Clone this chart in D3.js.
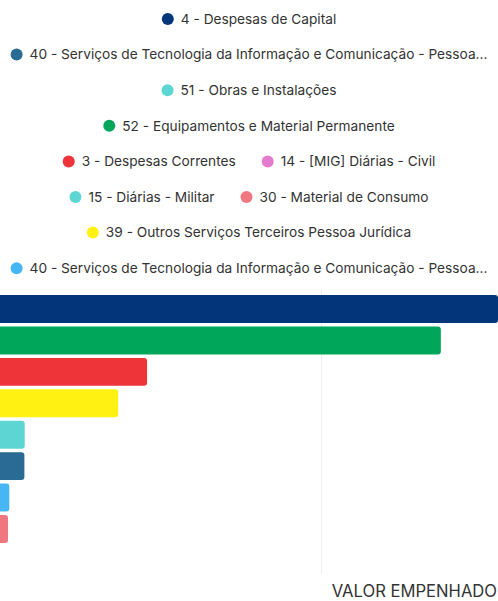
<!DOCTYPE html>
<html>
<head>
<meta charset="utf-8">
<script src="https://cdn.jsdelivr.net/npm/d3@7"></script>
<style>
  body { margin: 0; background: #fff; }
  text { font-family: Inter, "Noto Sans", sans-serif; }
</style>
</head>
<body>
<div id="chart"></div>
<script>
// bars, top to bottom
const categories = [
    "4 - Despesas de Capital",
    "52 - Equipamentos e Material Permanente",
    "3 - Despesas Correntes",
    "39 - Outros Serviços Terceiros Pessoa Jurídica",
    "51 - Obras e Instalações",
    "40 - Serviços de Tecnologia da Informação e Comunicação - Pessoa Jurídica (capital)",
    "40 - Serviços de Tecnologia da Informação e Comunicação - Pessoa Jurídica",
    "30 - Material de Consumo"
];
const values = [1551000, 1373000, 458000, 368000, 77000, 76000, 29000, 25000];
const barColors = ["#03357a", "#00a65a", "#ee3339", "#fff212", "#5dd6d3", "#2a6b95", "#46b7f4", "#f07780"];

// legend, row by row
const legendRows = [
    [["4 - Despesas de Capital", "#03357a"]],
    [["40 - Serviços de Tecnologia da Informação e Comunicação - Pessoa...", "#2a6b95"]],
    [["51 - Obras e Instalações", "#5dd6d3"]],
    [["52 - Equipamentos e Material Permanente", "#00a65a"]],
    [["3 - Despesas Correntes", "#ee3339"], ["14 - [MIG] Diárias - Civil", "#e57bcd"]],
    [["15 - Diárias - Militar", "#5dd6d3"], ["30 - Material de Consumo", "#f07780"]],
    [["39 - Outros Serviços Terceiros Pessoa Jurídica", "#fff212"]],
    [["40 - Serviços de Tecnologia da Informação e Comunicação - Pessoa...", "#46b7f4"]]
];
const gridTicks = [1000000];
const axisTitle = "VALOR EMPENHADO";

const width = 498,
    height = 601;

const svg = d3.select("#chart")
    .append("svg")
    .attr("width", width)
    .attr("height", height);

// legend
const rowY = d3.scaleLinear().domain([0, 1]).range([19, 54.6]);
legendRows.forEach((row, i) => {
    const g = svg.append("g");
    let x = 0;
    row.forEach(([label, color]) => {
        const item = g.append("g");
        item.append("circle")
            .attr("cx", 6).attr("cy", 0).attr("r", 6)
            .attr("fill", color);
        const t = item.append("text")
            .attr("x", 19).attr("y", 0)
            .attr("dy", "0.35em")
            .style("font-size", "13.7px")
            .style("fill", "#333")
            .text(label);
        const w = 19 + t.node().getComputedTextLength();
        item.attr("transform", `translate(${x}, 0)`);
        x += w + 26;
    });
    const total = x - 26;
    g.attr("transform", `translate(${(width - total) / 2}, ${rowY(i)})`);
});

// bars
const x = d3.scaleLinear()
    .domain([0, d3.max(values)])
    .range([0, width]);

const y = d3.scaleBand()
    .domain(categories)
    .range([293.3, 544.7])
    .paddingInner(0.11)
    .paddingOuter(0.055);

svg.append("g")
    .selectAll("line")
    .data(gridTicks)
    .enter()
    .append("line")
    .attr("x1", d => x(d) + 0.5)
    .attr("x2", d => x(d) + 0.5)
    .attr("y1", 290)
    .attr("y2", 574)
    .attr("stroke", "#ededed")
    .attr("stroke-width", 1);

svg.append("g")
    .selectAll("rect")
    .data(categories)
    .enter()
    .append("rect")
    .attr("x", -6)
    .attr("y", d => y(d))
    .attr("width", (d, i) => x(values[i]) + 6)
    .attr("height", y.bandwidth())
    .attr("rx", 3)
    .attr("fill", (d, i) => barColors[i]);

svg.append("text")
    .attr("x", 497)
    .attr("y", 591)
    .attr("dy", "0.35em")
    .attr("text-anchor", "end")
    .style("font-size", "16.6px")
    .style("fill", "#333")
    .text(axisTitle);
</script>
</body>
</html>
